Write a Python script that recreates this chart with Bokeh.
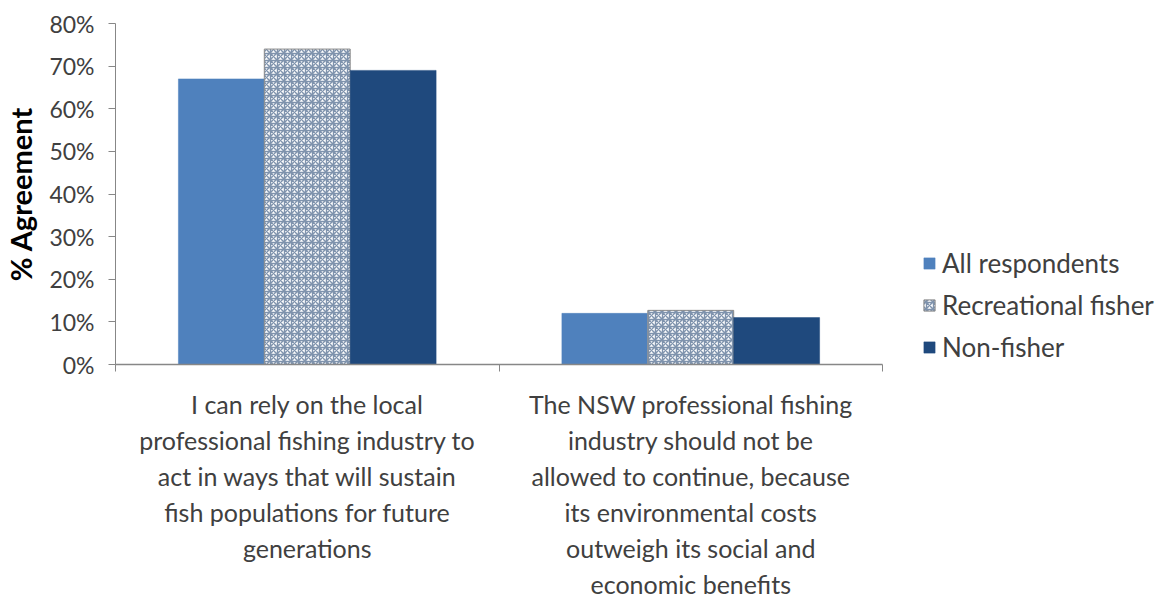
from bokeh.plotting import figure
from bokeh.models import ColumnDataSource, FixedTicker, NumeralTickFormatter, Legend, LegendItem, Range1d
from bokeh.transform import dodge
from bokeh.embed import file_html
from bokeh.resources import INLINE

categories = [
    "I can rely on the local\nprofessional fishing industry to\nact in ways that will sustain\nfish populations for future\ngenerations",
    "The NSW professional fishing\nindustry should not be\nallowed to continue, because\nits environmental costs\noutweigh its social and\neconomic benefits",
]
series_names = ["All respondents", "Recreational fisher", "Non-fisher"]
all_respondents = [0.67, 0.12]
recreational_fisher = [0.74, 0.127]
non_fisher = [0.69, 0.11]
y_ticks = [0.0, 0.1, 0.2, 0.3, 0.4, 0.5, 0.6, 0.7, 0.8]

centers = [i + 0.5 for i in range(len(categories))]
src = ColumnDataSource(dict(x=centers, a=all_respondents, r=recreational_fisher, n=non_fisher))

FONT = "Lato"
TXT = "#404040"
AX = "#878787"

p = figure(frame_width=767, frame_height=341, output_backend="svg", toolbar_location=None,
           x_range=Range1d(0, 2), y_range=Range1d(0, 0.8),
           min_border_left=114, min_border_top=23, min_border_bottom=0, min_border_right=0)
p.outline_line_color = None
p.xgrid.grid_line_color = None
p.ygrid.grid_line_color = None

w = 0.224
r1 = p.vbar(x=dodge("x", -w, range=p.x_range), top="a", width=w, source=src,
            fill_color="#4f81bd", line_color="#4f81bd", line_width=0.5)
r2 = p.vbar(x="x", top="r", width=w, source=src,
            fill_color="white", line_color="#8a8a8a", line_width=1,
            hatch_pattern="criss_cross", hatch_color="#7f93ad", hatch_scale=7, hatch_weight=1.4)
r3 = p.vbar(x=dodge("x", w, range=p.x_range), top="n", width=w, source=src,
            fill_color="#1f497d", line_color="#1f497d", line_width=0.5)

# y axis
p.yaxis.ticker = FixedTicker(ticks=y_ticks)
p.yaxis.formatter = NumeralTickFormatter(format="0%")
p.yaxis.axis_line_color = AX
p.yaxis.major_tick_line_color = AX
p.yaxis.major_tick_out = 7
p.yaxis.major_tick_in = 0
p.yaxis.minor_tick_line_color = None
p.yaxis.major_label_text_font = FONT
p.yaxis.major_label_text_font_size = "23px"
p.yaxis.major_label_text_color = TXT
p.yaxis.major_label_standoff = 14
p.yaxis.axis_label = "% Agreement"
p.yaxis.axis_label_text_font = FONT
p.yaxis.axis_label_text_font_style = "bold"
p.yaxis.axis_label_text_font_size = "29px"
p.yaxis.axis_label_text_color = "#000000"
p.yaxis.axis_label_standoff = 8

# x axis
p.xaxis.ticker = FixedTicker(ticks=centers, minor_ticks=[0, 1, 2])
p.xaxis.major_label_overrides = {c: lab for c, lab in zip(centers, categories)}
p.xaxis.axis_line_color = AX
p.xaxis.axis_line_width = 1.5
p.xaxis.major_tick_line_color = None
p.xaxis.minor_tick_line_color = AX
p.xaxis.minor_tick_out = 7
p.xaxis.minor_tick_in = 0
p.xaxis.major_label_text_font = FONT
p.xaxis.major_label_text_font_size = "25px"
p.xaxis.major_label_text_color = TXT
p.xaxis.major_label_text_line_height = 1.2
p.xaxis.major_label_standoff = 17

legend = Legend(items=[LegendItem(label=series_names[0], renderers=[r1]),
                       LegendItem(label=series_names[1], renderers=[r2]),
                       LegendItem(label=series_names[2], renderers=[r3])],
                location=(40, 1), orientation="vertical")
legend.border_line_color = None
legend.background_fill_alpha = 0
legend.label_text_font = FONT
legend.label_text_font_size = "26px"
legend.label_text_color = TXT
legend.glyph_width = 14
legend.glyph_height = 14
legend.spacing = 10
legend.label_standoff = 6
legend.padding = 0
legend.margin = 0
p.add_layout(legend, "right")

open("out.html", "w").write(file_html(p, INLINE))
